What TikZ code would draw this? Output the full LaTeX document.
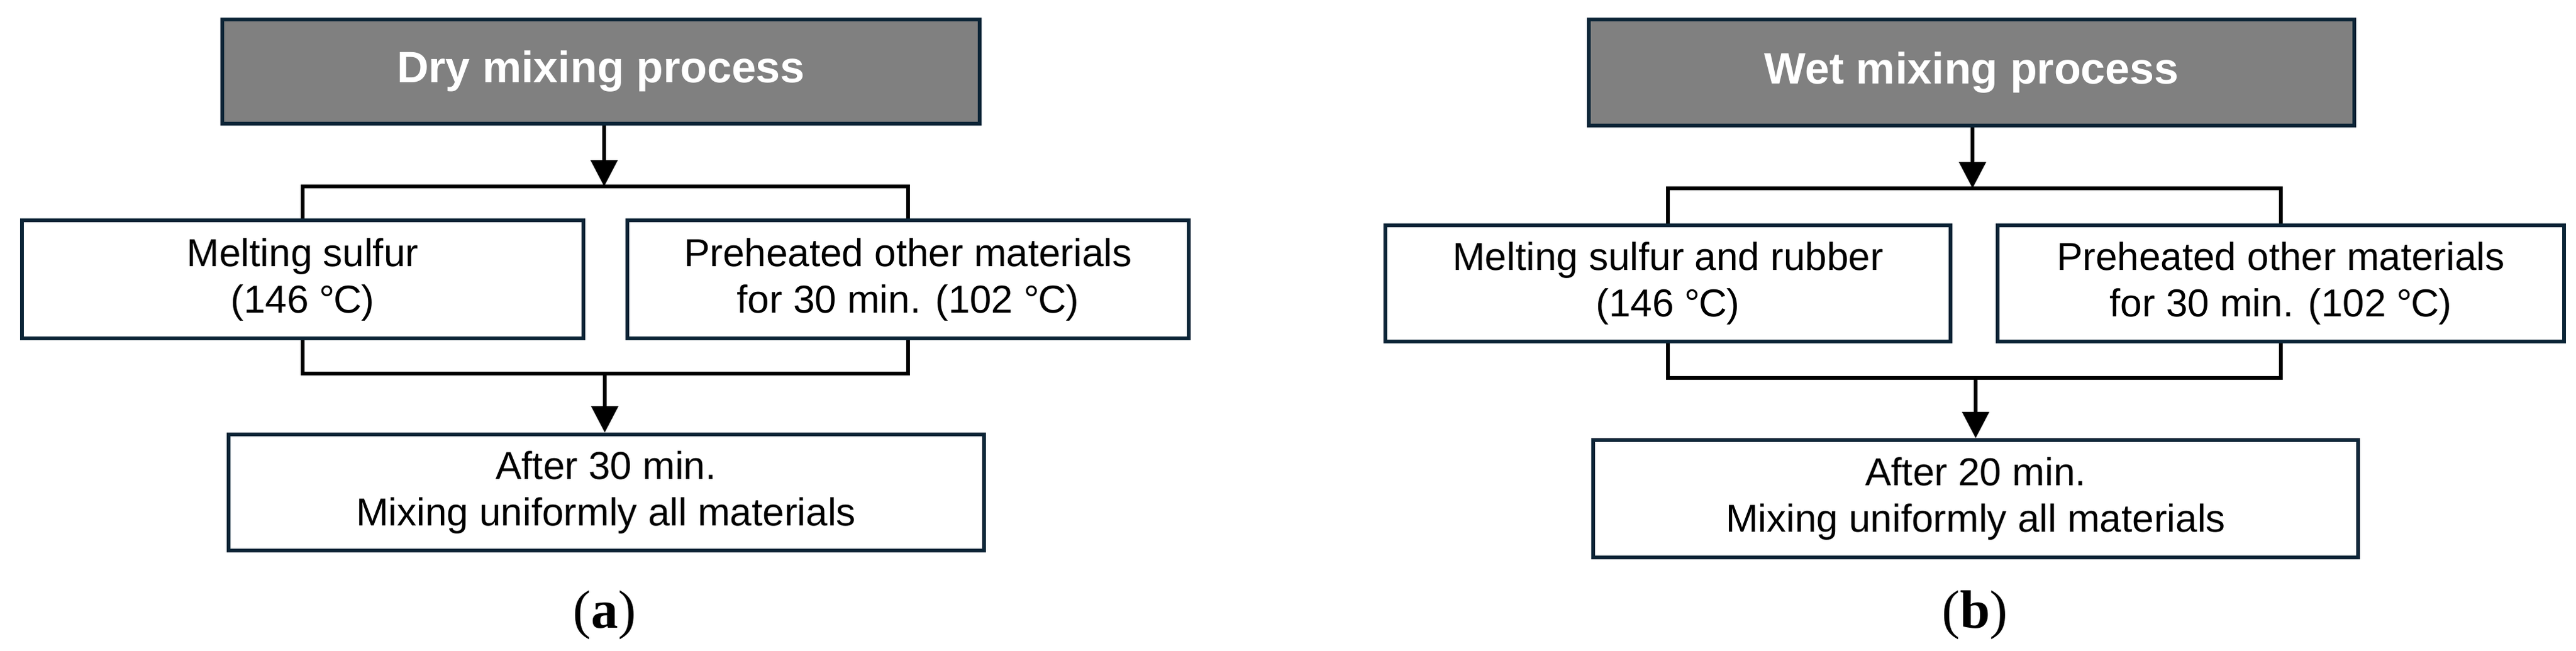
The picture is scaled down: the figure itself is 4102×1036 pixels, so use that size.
\documentclass[tikz,border=0pt]{standalone}
\usepackage{fontspec}
\setmainfont{Liberation Sans}
\newfontfamily\capfont{Liberation Serif}
\usetikzlibrary{arrows.meta}
\definecolor{navy}{RGB}{12,37,55}
\begin{document}
\begin{tikzpicture}[x=1pt,y=-1pt,
  boxbase/.style={draw=navy, line width=6pt, inner sep=0pt, align=center},
  headbox/.style={boxbase, fill=black!50, text=white, font=\fontsize{70}{84}\selectfont\bfseries},
  stepbox/.style={boxbase, fill=white, font=\fontsize{62}{74}\selectfont},
  conn/.style={line width=6pt, black},
  arr/.style={line width=6pt, black, -{Triangle[length=42pt,width=42pt]}},
  captext/.style={font=\capfont\fontsize{86}{100}\selectfont}
]
\useasboundingbox (0,0) rectangle (4102,1036);

% ---------- panel (a)
\node[headbox, minimum width=1206pt, minimum height=166pt] (ha) at (957,114) {Dry mixing process};
\node[stepbox, minimum width=894pt, minimum height=188pt] (ma) at (482,445) {Melting sulfur\\(146 °\kern-0.04em C)};
\node[stepbox, minimum width=894pt, minimum height=188pt] (pa) at (1446,445) {Preheated other materials\\for 30 min. (102 °\kern-0.04em C)};
\node[stepbox, minimum width=1203pt, minimum height=185pt] (fa) at (965,784.5) {After 30 min.\\Mixing uniformly all materials};
\coordinate (aj) at (962,297);
\coordinate (ak) at (963,595);
\draw[conn] (ma.north) |- (aj) -| (pa.north);
\draw[arr] (ha.south -| aj) -- (aj);
\draw[conn] (ma.south) |- (ak) -| (pa.south);
\draw[arr] (ak) -- (fa.north -| ak);
\node[captext] (capa) at (963,980) {(\textbf{a})};

% ---------- panel (b)
\node[headbox, minimum width=1219pt, minimum height=169pt] (hb) at (3139.5,115.5) {Wet mixing process};
\node[stepbox, minimum width=900pt, minimum height=185pt] (mb) at (2656,451.5) {Melting sulfur and rubber\\(146 °\kern-0.04em C)};
\node[stepbox, minimum width=902pt, minimum height=185pt] (pb) at (3632,451.5) {Preheated other materials\\for 30 min. (102 °\kern-0.04em C)};
\node[stepbox, minimum width=1218pt, minimum height=187pt] (fb) at (3146,794.5) {After 20 min.\\Mixing uniformly all materials};
\coordinate (bj) at (3141,300);
\coordinate (bk) at (3146,602);
\draw[conn] (mb.north) |- (bj) -| (pb.north);
\draw[arr] (hb.south -| bj) -- (bj);
\draw[conn] (mb.south) |- (bk) -| (pb.south);
\draw[arr] (bk) -- (fb.north -| bk);
\node[captext] (capb) at (3145,980) {(\textbf{b})};
\end{tikzpicture}
\end{document}
